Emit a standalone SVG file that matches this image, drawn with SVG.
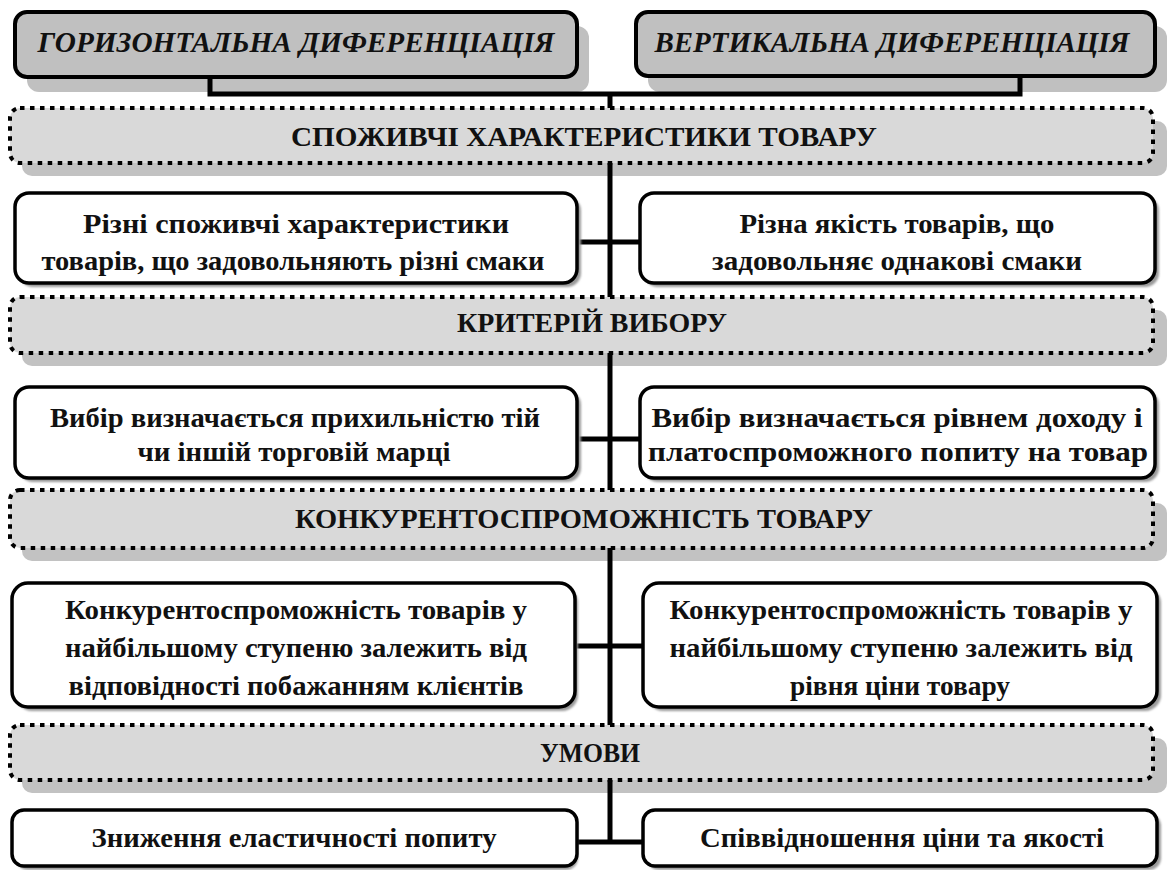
<svg xmlns="http://www.w3.org/2000/svg" width="1167" height="870" viewBox="0 0 1167 870">
<defs>
<filter id="soft" x="-5%" y="-5%" width="110%" height="120%"><feGaussianBlur stdDeviation="1.2"/></filter>
<style>
.bg{fill:#ffffff}
.top{fill:#c0c0c0;stroke:#000;stroke-width:4}
.topsh{fill:#c0c0c0}
.dot{fill:#d9d9d9;stroke:#000;stroke-width:4;stroke-dasharray:4.5 5.5}
.dotsh{fill:#c2c2c2}
.box{fill:#fff;stroke:#000;stroke-width:3.5}
.boxsh{fill:#9a9a9a;filter:url(#soft)}
.conn{fill:none;stroke:#000;stroke-width:5}
.ti{font-style:italic;font-size:29px}
.h{font-size:28px}
.t{font-size:27px}
</style>
</defs>
<rect class="bg" x="0" y="0" width="1167" height="870"/>

<g id="shadows">
<rect class="topsh" x="27" y="26" width="562" height="66" rx="12"/>
<rect class="topsh" x="648" y="26" width="519" height="66" rx="12"/>
<rect class="dotsh" x="22" y="121" width="1145" height="55" rx="10"/>
<rect class="dotsh" x="22" y="310" width="1145" height="56" rx="10"/>
<rect class="dotsh" x="22" y="503" width="1145" height="58" rx="10"/>
<rect class="dotsh" x="22" y="738" width="1145" height="55" rx="10"/>
</g>

<g id="connectors">
<path class="conn" d="M210 78 V94 H1020 V76"/>
<path class="conn" d="M610 94 V108"/>
<path class="conn" d="M610 163 V297 M577 242 H640"/>
<path class="conn" d="M610 353 V490 M577 439 H640"/>
<path class="conn" d="M610 548 V725 M577 646 H643"/>
<path class="conn" d="M610 780 V842 M577 842 H643"/>
</g>

<g id="nodes" font-family="Liberation Serif" font-weight="bold" fill="#111" text-anchor="middle">
<g id="horiz">
<rect class="top" x="15" y="12" width="562" height="65" rx="12"/>
<text class="ti" x="296" y="52" textLength="517" lengthAdjust="spacingAndGlyphs">ГОРИЗОНТАЛЬНА ДИФЕРЕНЦІАЦІЯ</text>
</g>
<g id="vert">
<rect class="top" x="636" y="12" width="519" height="64" rx="12"/>
<text class="ti" x="892" y="52" textLength="475" lengthAdjust="spacingAndGlyphs">ВЕРТИКАЛЬНА ДИФЕРЕНЦІАЦІЯ</text>
</g>

<g id="h1">
<rect class="dot" x="10" y="108" width="1143" height="55" rx="10"/>
<text class="h" x="584" y="146" textLength="586" lengthAdjust="spacingAndGlyphs">СПОЖИВЧІ ХАРАКТЕРИСТИКИ ТОВАРУ</text>
</g>

<g id="r2l">
<rect class="boxsh" x="19" y="197" width="562" height="90" rx="14"/>
<rect class="box" x="15" y="193" width="562" height="90" rx="14"/>
<text class="t" x="296" y="233" textLength="426" lengthAdjust="spacingAndGlyphs">Різні споживчі характеристики</text>
<text class="t" x="293" y="270" textLength="503" lengthAdjust="spacingAndGlyphs">товарів, що задовольняють різні смаки</text>
</g>
<g id="r2r">
<rect class="boxsh" x="644" y="197" width="515" height="90" rx="14"/>
<rect class="box" x="640" y="193" width="515" height="90" rx="14"/>
<text class="t" x="897" y="233" textLength="315" lengthAdjust="spacingAndGlyphs">Різна якість товарів, що</text>
<text class="t" x="897" y="270" textLength="370" lengthAdjust="spacingAndGlyphs">задовольняє однакові смаки</text>
</g>

<g id="h2">
<rect class="dot" x="10" y="297" width="1143" height="56" rx="10"/>
<text class="h" x="592" y="332" textLength="270" lengthAdjust="spacingAndGlyphs">КРИТЕРІЙ ВИБОРУ</text>
</g>

<g id="r3l">
<rect class="boxsh" x="19" y="391" width="562" height="91" rx="14"/>
<rect class="box" x="15" y="387" width="562" height="91" rx="14"/>
<text class="t" x="295" y="427" textLength="490" lengthAdjust="spacingAndGlyphs">Вибір визначається прихильністю тій</text>
<text class="t" x="294" y="461" textLength="313" lengthAdjust="spacingAndGlyphs">чи іншій торговій марці</text>
</g>
<g id="r3r">
<rect class="boxsh" x="644" y="391" width="515" height="91" rx="14"/>
<rect class="box" x="640" y="387" width="515" height="91" rx="14"/>
<text class="t" x="897" y="427" textLength="491" lengthAdjust="spacingAndGlyphs">Вибір визначається рівнем доходу і</text>
<text class="t" x="898" y="461" textLength="500" lengthAdjust="spacingAndGlyphs">платоспроможного попиту на товар</text>
</g>

<g id="h3">
<rect class="dot" x="10" y="490" width="1143" height="58" rx="10"/>
<text class="h" x="584" y="528" textLength="578" lengthAdjust="spacingAndGlyphs">КОНКУРЕНТОСПРОМОЖНІСТЬ ТОВАРУ</text>
</g>

<g id="r4l">
<rect class="boxsh" x="16" y="587" width="562" height="124" rx="16"/>
<rect class="box" x="12" y="583" width="563" height="124" rx="16"/>
<text class="t" x="296" y="619" textLength="462" lengthAdjust="spacingAndGlyphs">Конкурентоспроможність товарів у</text>
<text class="t" x="296" y="657" textLength="462" lengthAdjust="spacingAndGlyphs">найбільшому ступеню залежить від</text>
<text class="t" x="296" y="695" textLength="455" lengthAdjust="spacingAndGlyphs">відповідності побажанням клієнтів</text>
</g>
<g id="r4r">
<rect class="boxsh" x="647" y="587" width="514" height="124" rx="16"/>
<rect class="box" x="643" y="583" width="514" height="124" rx="16"/>
<text class="t" x="901" y="619" textLength="463" lengthAdjust="spacingAndGlyphs">Конкурентоспроможність товарів у</text>
<text class="t" x="901" y="657" textLength="463" lengthAdjust="spacingAndGlyphs">найбільшому ступеню залежить від</text>
<text class="t" x="900" y="695" textLength="220" lengthAdjust="spacingAndGlyphs">рівня ціни товару</text>
</g>

<g id="h4">
<rect class="dot" x="10" y="725" width="1143" height="55" rx="10"/>
<text class="h" x="590" y="762" textLength="100" lengthAdjust="spacingAndGlyphs">УМОВИ</text>
</g>

<g id="r5l">
<rect class="boxsh" x="16" y="814" width="562" height="56" rx="12"/>
<rect class="box" x="12" y="810" width="565" height="56" rx="12"/>
<text class="t" x="294" y="847" textLength="405" lengthAdjust="spacingAndGlyphs">Зниження еластичності попиту</text>
</g>
<g id="r5r">
<rect class="boxsh" x="647" y="814" width="514" height="56" rx="12"/>
<rect class="box" x="643" y="810" width="514" height="56" rx="12"/>
<text class="t" x="902" y="847" textLength="404" lengthAdjust="spacingAndGlyphs">Співвідношення ціни та якості</text>
</g>
</g>
</svg>
